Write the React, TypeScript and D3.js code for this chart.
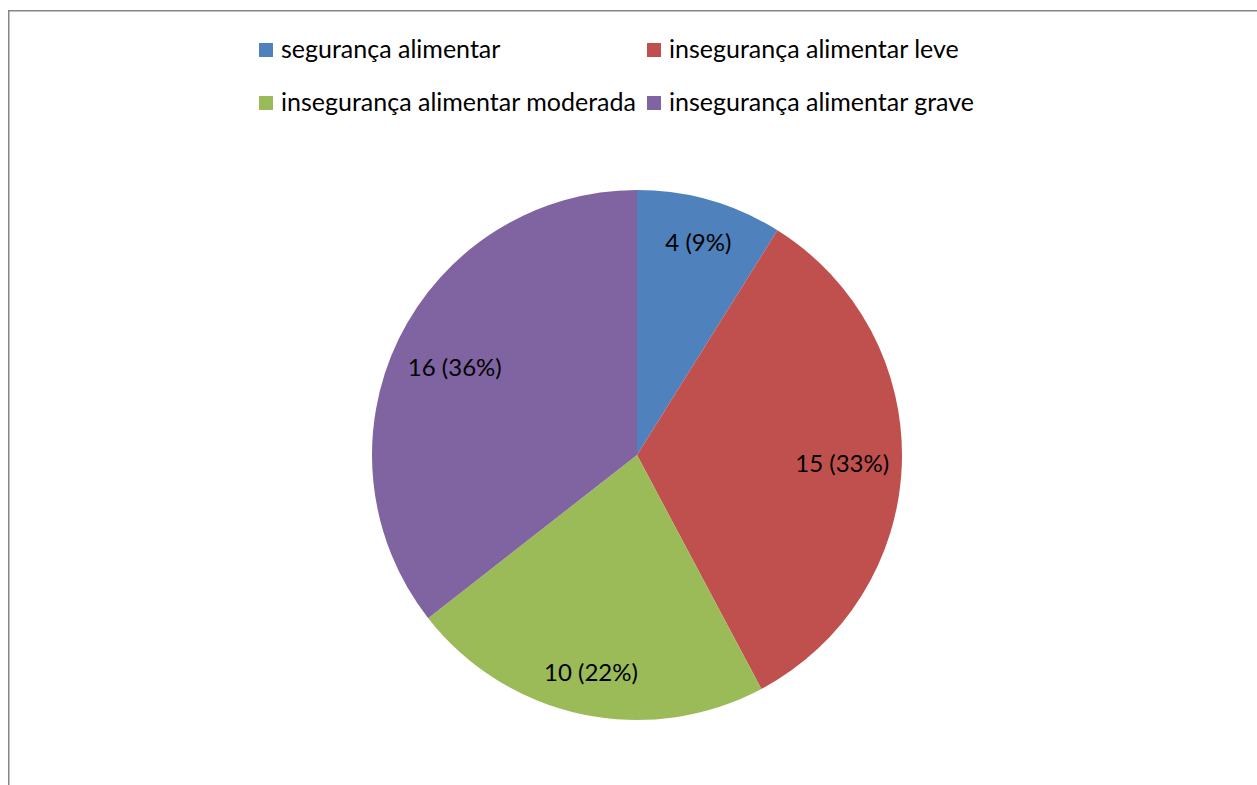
import React from "react";
import * as d3 from "d3";

const categories = [
  "segurança alimentar",
  "insegurança alimentar leve",
  "insegurança alimentar moderada",
  "insegurança alimentar grave",
];
const values = [4, 15, 10, 16];
const percentLabels = ["9%", "33%", "22%", "36%"];
const colors = ["#4F81BD", "#C0504D", "#9BBB59", "#8064A2"];
const labelRadiusFactor = [0.84, 0.775, 0.835, 0.765];

const W = 1257;
const H = 785;
const cx = 637;
const cy = 455;
const R = 265;
const FONT = "Lato, 'Open Sans', sans-serif";

export default function App() {
  const pie = d3.pie<number>().sort(null).value((d) => d)(values);
  const arc = d3.arc<d3.PieArcDatum<number>>().innerRadius(0).outerRadius(R);

  const legendPos = [
    { x: 259, y: 43 },
    { x: 647, y: 43 },
    { x: 259, y: 96 },
    { x: 647, y: 96 },
  ];

  return (
    <svg
      width={W}
      height={H}
      style={{ position: "absolute", left: 0, top: 0 }}
    >
      <rect x={0} y={0} width={W} height={H} fill="#fff" />
      <path
        d={`M8.75,${H} L8.75,10.75 L${W},10.75`}
        fill="none"
        stroke="#868686"
        strokeWidth={1.5}
      />
      <g transform={`translate(${cx},${cy})`}>
        {pie.map((p, i) => (
          <path key={i} d={arc(p) || ""} fill={colors[i]} />
        ))}
        {pie.map((p, i) => {
          const r = R * labelRadiusFactor[i];
          const [lx, ly] = d3
            .arc<d3.PieArcDatum<number>>()
            .innerRadius(r)
            .outerRadius(r)
            .centroid(p);
          return (
            <text
              key={"l" + i}
              x={lx}
              y={ly}
              textAnchor="middle"
              dominantBaseline="central"
              fontFamily={FONT}
              fontSize={24}
              fill="#000"
            >
              {`${values[i]} (${percentLabels[i]})`}
            </text>
          );
        })}
      </g>
      {categories.map((c, i) => (
        <g key={"lg" + i}>
          <rect
            x={legendPos[i].x}
            y={legendPos[i].y}
            width={14}
            height={14}
            fill={colors[i]}
          />
          <text
            x={legendPos[i].x + 22}
            y={legendPos[i].y + 15}
            fontFamily={FONT}
            fontSize={25}
            fill="#000"
          >
            {c}
          </text>
        </g>
      ))}
    </svg>
  );
}
